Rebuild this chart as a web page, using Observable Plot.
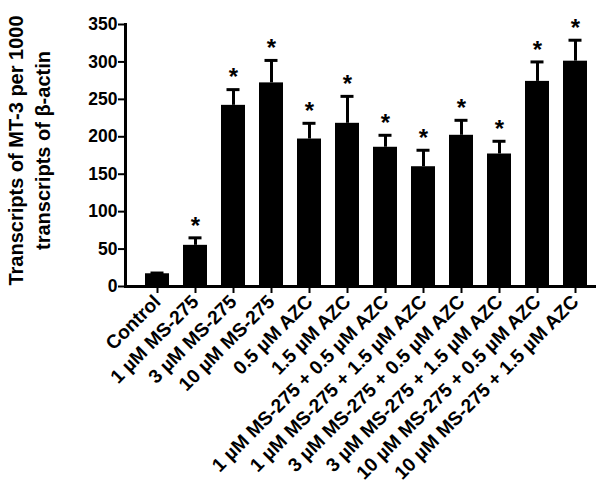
<!DOCTYPE html>
<html>
<head>
<meta charset="utf-8">
<script src="https://cdn.jsdelivr.net/npm/d3@7"></script>
<script src="https://cdn.jsdelivr.net/npm/@observablehq/plot@0.6"></script>
<style>
  html, body { margin: 0; padding: 0; background: #fff; }
  svg { display: block; }
</style>
</head>
<body>
<div id="chart"></div>
<script>
const categories = [
  "Control",
  "1 µM MS-275",
  "3 µM MS-275",
  "10 µM MS-275",
  "0.5 µM AZC",
  "1.5 µM AZC",
  "1 µM MS-275 + 0.5 µM AZC",
  "1 µM MS-275 + 1.5 µM AZC",
  "3 µM MS-275 + 0.5 µM AZC",
  "3 µM MS-275 + 1.5 µM AZC",
  "10 µM MS-275 + 0.5 µM AZC",
  "10 µM MS-275 + 1.5 µM AZC"
];
const means = [17, 55, 242, 272, 197, 218, 186, 160, 202, 177, 274, 301];
const upperErrors = [18, 65, 263, 302, 218, 254, 202, 182, 222, 194, 300, 329];
const significant = [false, true, true, true, true, true, true, true, true, true, true, true];
const yTicks = [0, 50, 100, 150, 200, 250, 300, 350];
const yLabel = "Transcripts of MT-3 per 1000\ntranscripts of β-actin";

const data = categories.map((c, i) => ({
  group: c, mean: means[i], upper: upperErrors[i], star: significant[i] ? "*" : ""
}));

const font = "Arial, 'Liberation Sans', Helvetica, sans-serif";

const chart = Plot.plot({
  width: 601,
  height: 501,
  marginLeft: 125,
  marginRight: 5,
  marginTop: 24,
  marginBottom: 215,
  style: { fontFamily: font, color: "#000", background: "#fff" },
  x: { domain: categories, padding: 0, insetLeft: 10 },
  y: { domain: [0, 350] },
  marks: [
    Plot.barY(data, { x: "group", y: "mean", fill: "#000", insetLeft: 7, insetRight: 7 }),
    Plot.ruleX(data, { x: "group", y1: "mean", y2: "upper", stroke: "#000", strokeWidth: 3 }),
    Plot.tickY(data, { x: "group", y: "upper", stroke: "#000", strokeWidth: 3, insetLeft: 12.5, insetRight: 12.5 }),
    Plot.text(data, { x: "group", y: "upper", text: "star", dy: -12, fontSize: 24, fontWeight: "bold", fill: "#000" }),
    Plot.axisY({ ticks: yTicks, tickSize: 7, tickPadding: 1, tickFormat: d => d, fontSize: 17.5, fontWeight: "bold", strokeWidth: 2, label: null }),
    Plot.axisX({ tickSize: 7, tickPadding: 5, tickRotate: -45, fontSize: 19.2, fontWeight: "bold", strokeWidth: 2, label: null }),
    Plot.ruleY([0], { stroke: "#000", strokeWidth: 3 }),
    Plot.frame({ anchor: "left", stroke: "#000", strokeWidth: 3 }),
    Plot.text([yLabel], { frameAnchor: "left", textAnchor: "middle", dx: -98, dy: -5, rotate: -90, fontSize: 20, fontWeight: "bold", lineHeight: 1.35, fill: "#000" })
  ]
});
document.getElementById("chart").appendChild(chart);
</script>
</body>
</html>
